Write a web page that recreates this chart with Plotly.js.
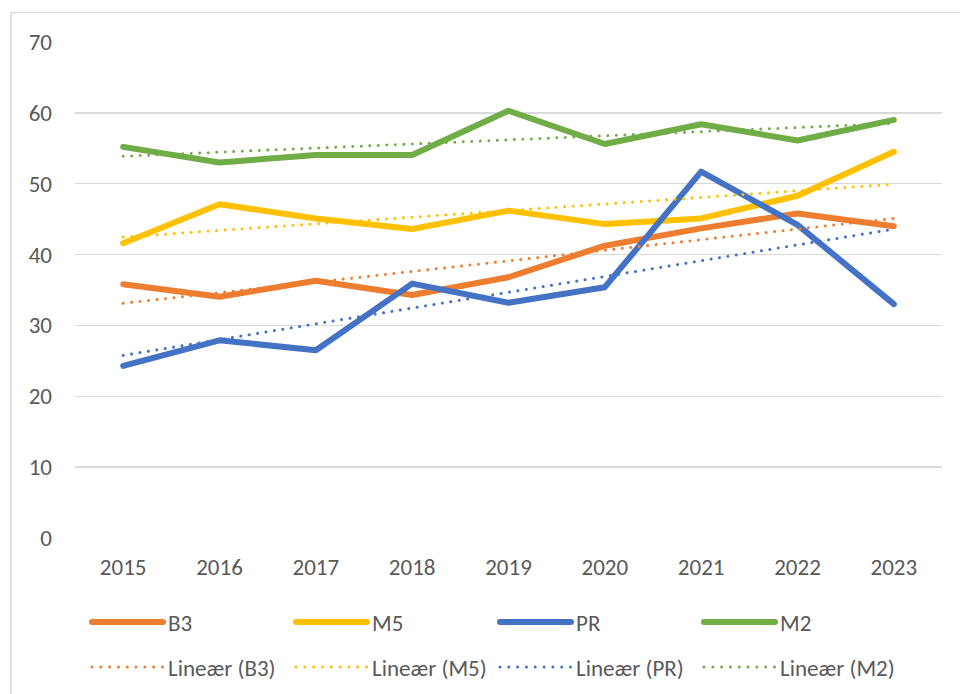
<!DOCTYPE html>
<html>
<head>
<meta charset="utf-8">
<script src="https://cdn.plot.ly/plotly-3.0.1.min.js"></script>
<style>html,body{margin:0;padding:0;background:#fff;}#chart{width:960px;height:694px;}</style>
</head>
<body>
<div id="chart"></div>
<script>
const years = ["2015","2016","2017","2018","2019","2020","2021","2022","2023"];
const seriesNames = ["B3", "M5", "PR", "M2"];
const B3 = [35.8, 34.05, 36.3, 34.3, 36.8, 41.25, 43.7, 45.8, 44.0];
const M5 = [41.6, 47.1, 45.1, 43.6, 46.2, 44.3, 45.1, 48.3, 54.5];
const PR = [24.3, 27.9, 26.5, 35.9, 33.2, 35.4, 51.7, 44.2, 33.0];
const M2 = [55.2, 53.0, 54.05, 54.05, 60.3, 55.6, 58.4, 56.1, 59.0];
const colors = ["#ED7D31", "#FFC000", "#4472C4", "#70AD47"];
const yTicks = [0, 10, 20, 30, 40, 50, 60, 70];

// Excel-style linear trendline (least squares over category index)
function linearTrend(vals) {
  const n = vals.length;
  let sx = 0, sy = 0, sxx = 0, sxy = 0;
  vals.forEach((v, i) => { sx += i; sy += v; sxx += i * i; sxy += i * v; });
  const b = (n * sxy - sx * sy) / (n * sxx - sx * sx);
  const a = (sy - b * sx) / n;
  return vals.map((_, i) => a + b * i);
}

const allSeries = [B3, M5, PR, M2];
const FONT = 'Carlito, "Liberation Sans", Arial, sans-serif';
const FS = 23;
const traces = [];
allSeries.forEach((vals, k) => {
  traces.push({
    x: years, y: vals, type: "scatter", mode: "lines", name: seriesNames[k],
    line: {color: colors[k], width: 6}, legend: "legend"
  });
});
allSeries.forEach((vals, k) => {
  traces.push({
    x: years, y: linearTrend(vals), type: "scatter", mode: "lines",
    name: "Lineær (" + seriesNames[k] + ")",
    line: {color: colors[k], width: 3, dash: "3px,5.5px"}, legend: "legend2"
  });
});

const PL = 75, PR_ = 18, PT = 42, PB = 156;
const W = 960, H = 694;
const pw = W - PL - PR_, ph = H - PT - PB;
const px2x = p => (p - PL) / pw;
const py2y = p => (H - PB - p) / ph;

const legendCommon = {
  orientation: "h", xanchor: "left", yanchor: "middle",
  xref: "container", yref: "container",
  font: {family: FONT, size: FS, color: "#595959"},
  bgcolor: "rgba(0,0,0,0)", itemwidth: 71,
  entrywidth: 118, entrywidthmode: "pixels",
  itemclick: false, itemdoubleclick: false
};

const layout = {
  width: W, height: H,
  margin: {l: PL, r: PR_, t: PT, b: PB, pad: 0, autoexpand: false},
  paper_bgcolor: "#ffffff", plot_bgcolor: "#ffffff",
  font: {family: FONT, size: FS, color: "#595959"},
  showlegend: true,
  xaxis: {
    type: "category", range: [-0.5, 8.5], showgrid: false, zeroline: false,
    showline: false, ticks: "", tickfont: {family: FONT, size: FS, color: "#595959"},
    ticklabelstandoff: 13, fixedrange: true, automargin: false
  },
  yaxis: {
    range: [0, 70], tickvals: yTicks, ticktext: yTicks.map(String),
    showgrid: true, gridcolor: "#d9d9d9", gridwidth: 1.3, zeroline: false,
    showline: false, ticks: "", tickfont: {family: FONT, size: FS, color: "#595959"},
    ticklabelstandoff: 22, fixedrange: true, automargin: false
  },
  legend: Object.assign({}, legendCommon, {x: 87 / W, y: 1 - 622 / H}),
  legend2: Object.assign({}, legendCommon, {x: 87 / W, y: 1 - 667 / H}),
  shapes: [{
    type: "rect", xref: "paper", yref: "paper", layer: "below",
    x0: px2x(11), x1: px2x(1000), y0: py2y(720), y1: py2y(12.5),
    line: {color: "#d9d9d9", width: 1.5}, fillcolor: "rgba(0,0,0,0)"
  }]
};

Plotly.newPlot("chart", traces, layout, {displayModeBar: false, staticPlot: true}).then(gd => {
  gd.querySelectorAll(".scatterlayer .js-line").forEach(p => {
    p.style.strokeLinecap = "round";
    p.style.strokeLinejoin = "round";
    if (p.style.strokeDasharray && p.style.strokeDasharray !== "none") {
      p.style.strokeDasharray = "0.01px, 8.5px";
    }
  });
  gd.querySelectorAll(".legendlines path").forEach(p => {
    p.setAttribute("d", "M5,0h71");
    p.style.strokeLinecap = "round";
    if (p.style.strokeDasharray && p.style.strokeDasharray !== "none") {
      p.style.strokeDasharray = "0.01px, 8.8px";
    }
  });
});
</script>
</body>
</html>
